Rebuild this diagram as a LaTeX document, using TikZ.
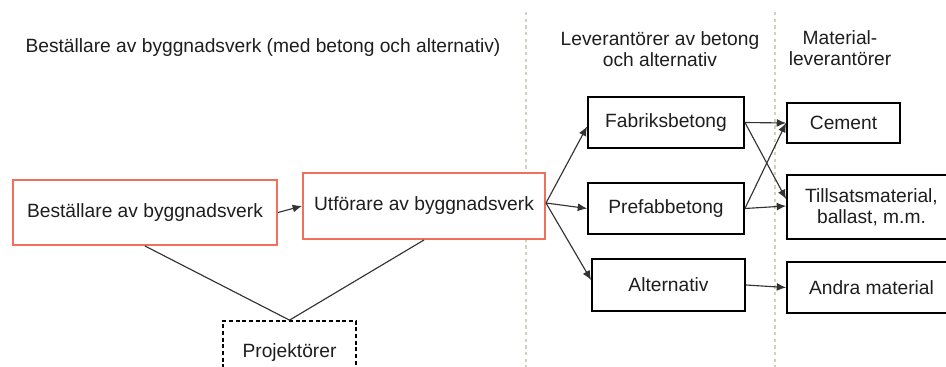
\documentclass[tikz,border=0pt]{standalone}
\usepackage{fontspec}
\setmainfont{Liberation Sans}
\usetikzlibrary{arrows.meta,calc}
\definecolor{coral}{RGB}{240,112,92}
\definecolor{sep}{RGB}{210,208,192}
\definecolor{conn}{RGB}{50,50,50}
\definecolor{txt}{RGB}{30,30,30}
\begin{document}
\begin{tikzpicture}[x=0.75pt,y=-0.75pt,
  font=\fontsize{14.4}{15.75}\selectfont,text=txt,
  box/.style={draw=black,line width=1.4pt,inner sep=0pt,align=center,fill=white},
  obox/.style={draw=coral,line width=1.5pt,inner sep=0pt,align=center,fill=white},
  pbox/.style={draw=black,line width=1.3pt,dash pattern=on 3pt off 2pt,inner sep=0pt,align=center},
  conn/.style={draw=conn,line width=0.85pt},
  arr/.style={conn,-{Latex[length=7pt,width=6pt]}},
  sepline/.style={draw=sep,line width=1pt,dash pattern=on 2.5pt off 2.5pt},
  lbl/.style={align=center,inner sep=0pt}]
\clip (0,0) rectangle (946,367);
\fill[white] (0,0) rectangle (946,367);
\coordinate (s1t) at (526,12);
\coordinate (s1b) at (526,367);
\coordinate (s2t) at (775,12);
\coordinate (s2b) at (775,367);
\draw[sepline] (s1t) -- (s1b);
\draw[sepline] (s2t) -- (s2b);
\node[lbl] (t1) at (263,48) {Beställare av byggnadsverk (med betong och alternativ)};
\node[lbl] (t2) at (660,49) {Leverantörer av betong\\och alternativ};
\node[lbl] (t3) at (840,48) {Material-\\leverantörer};
\node[obox,minimum width=198pt,minimum height=48.75pt] (best) at (145,212.5) {Beställare av byggnadsverk};
\node[obox,minimum width=181.5pt,minimum height=49.5pt] (utf) at (424,206) {Utförare av byggnadsverk};
\node[pbox,minimum width=99.75pt,minimum height=48pt] (proj) at (289.5,353) {Projektörer};
\node[box,minimum width=117pt,minimum height=38.25pt] (fab) at (666,122.5) {Fabriksbetong};
\node[box,minimum width=117pt,minimum height=38.25pt] (pre) at (666,208.5) {Prefabbetong};
\node[box,minimum width=114.75pt,minimum height=39pt] (alt) at (668.5,285) {Alternativ};
\node[box,minimum width=84.75pt,minimum height=30pt] (cem) at (843.5,123) {Cement};
\node[box,minimum width=126.75pt,minimum height=48pt] (til) at (871.5,207) {Tillsatsmaterial,\\ballast, m.m.};
\node[box,minimum width=126.75pt,minimum height=38.25pt] (and) at (871.5,287.5) {Andra material};
\draw[arr] (best.east) -- (utf.west);
\draw[conn] (best.south) -- (proj.north);
\draw[conn] (utf.south) -- (proj.north);
\draw[arr] ($(utf.east)+(0,-3)$) -- ($(fab.west)+(0,4)$);
\draw[arr] ($(utf.east)+(0,-3)$) -- (pre.west);
\draw[arr] ($(utf.east)+(0,-3)$) -- ($(alt.west)+(0,-5)$);
\draw[arr] (fab.east) -- (cem.west);
\draw[arr] (fab.east) -- ($(til.west)+(0,-8)$);
\draw[arr] (pre.east) -- (cem.west);
\draw[arr] (pre.east) -- ($(til.west)+(0,-1)$);
\draw[arr] (alt.east) -- (and.west);
\end{tikzpicture}
\end{document}
